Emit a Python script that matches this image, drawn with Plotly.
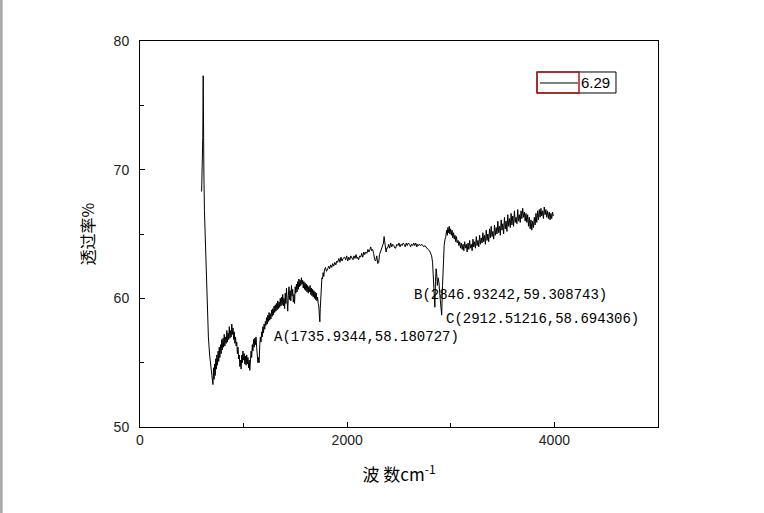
import plotly.graph_objects as go

# --------------------------------------------------
# DATA, (wavenumber, transmittance %)
# --------------------------------------------------

low_band = [
    (595, 68.3), (598, 69.6), (602, 68.9), (606, 72.5), (610, 77.3), (612, 71.0),
    (614, 73.2), (617, 69.5), (622, 66.8), (630, 64.5), (640, 61.3), (650, 58.8),
    (660, 57.0), (672, 55.6), (684, 54.4), (694, 54.0), (704, 53.3), (710, 54.6),
    (715, 53.7), (720, 54.9), (726, 54.0), (731, 55.3), (737, 54.5), (742, 55.6),
    (748, 54.8), (754, 55.9), (760, 55.1), (765, 56.2), (771, 55.4), (777, 56.4),
    (783, 55.7), (789, 56.8), (795, 56.0), (801, 56.9), (807, 56.2), (813, 57.2),
    (819, 56.3), (826, 57.0), (832, 56.5), (838, 57.5), (844, 56.6), (850, 57.3),
    (856, 56.8), (862, 57.8), (868, 56.9), (874, 57.5), (880, 57.0), (886, 58.0),
    (892, 57.2), (898, 57.7), (904, 56.8), (910, 57.4), (916, 56.5), (922, 57.0),
    (928, 56.3), (934, 56.6), (940, 55.7), (946, 56.2), (952, 55.3), (958, 55.6),
    (964, 54.7), (970, 55.2), (976, 54.5), (982, 55.6), (988, 55.0), (994, 55.9),
    (1000, 55.2), (1006, 55.7), (1012, 54.9), (1018, 55.5), (1024, 54.8), (1030, 55.6),
    (1036, 54.9), (1042, 55.4), (1048, 54.6), (1054, 55.2), (1060, 54.4), (1066, 55.5),
    (1072, 55.9), (1078, 55.4), (1084, 56.4), (1090, 55.9), (1096, 56.8), (1102, 56.2),
    (1108, 56.9), (1114, 56.4), (1120, 57.0), (1126, 56.2), (1132, 55.8), (1138, 55.0),
    (1144, 55.4), (1150, 55.0), (1156, 56.4), (1162, 57.0), (1168, 56.6), (1174, 57.4),
    (1180, 57.0), (1186, 57.8), (1192, 57.3), (1198, 58.0), (1204, 57.6), (1210, 58.2),
]

mid_band = [
    (1216, 57.9), (1222, 58.5), (1228, 58.0), (1234, 58.7), (1240, 58.2), (1246, 58.9),
    (1252, 58.3), (1258, 58.8), (1264, 58.4), (1270, 59.1), (1276, 58.6), (1282, 59.2),
    (1288, 58.7), (1294, 59.4), (1300, 58.9), (1306, 59.5), (1312, 59.0), (1318, 59.6),
    (1324, 59.1), (1330, 59.8), (1336, 59.2), (1342, 59.7), (1348, 59.3), (1354, 60.0),
    (1360, 59.4), (1366, 60.1), (1372, 59.5), (1378, 60.3), (1384, 59.4), (1390, 60.0),
    (1396, 59.2), (1402, 60.4), (1408, 59.6), (1414, 60.8), (1420, 59.8), (1426, 59.0),
    (1432, 60.2), (1438, 60.9), (1444, 59.9), (1450, 60.6), (1456, 59.8), (1462, 61.0),
    (1468, 60.2), (1474, 60.7), (1480, 59.7), (1486, 60.3), (1492, 59.6), (1498, 60.9),
    (1504, 60.4), (1510, 61.1), (1516, 60.5), (1522, 61.3), (1528, 60.7), (1534, 61.5),
    (1540, 60.9), (1546, 61.4), (1552, 61.0), (1558, 61.6), (1564, 61.1), (1570, 61.4),
    (1576, 60.8), (1582, 61.3), (1588, 60.7), (1594, 61.2), (1600, 60.6), (1606, 61.1),
    (1612, 60.5), (1618, 61.0), (1624, 60.4), (1630, 60.9), (1636, 60.5), (1642, 61.0),
    (1648, 60.3), (1654, 60.8), (1660, 60.2), (1666, 60.7), (1672, 60.1), (1678, 60.6),
    (1684, 60.0), (1690, 60.5), (1696, 59.9), (1702, 60.4), (1708, 59.8), (1714, 60.1),
    (1720, 59.6), (1726, 59.4), (1731, 58.7), (1736, 58.18), (1740, 59.2), (1745, 60.3),
    (1750, 61.2), (1756, 61.6), (1762, 61.5), (1768, 62.0), (1774, 61.7), (1780, 62.2),
]

plateau_band = [
    (1790, 62.4), (1800, 62.1), (1812, 62.3), (1822, 62.5), (1830, 62.3), (1841, 62.6),
    (1850, 62.4), (1860, 62.7), (1870, 62.5), (1880, 62.8), (1890, 62.6), (1900, 62.9),
    (1908, 62.8), (1920, 63.1), (1930, 62.8), (1940, 63.2), (1950, 62.9), (1960, 63.1),
    (1976, 63.2), (1985, 63.0), (1995, 63.3), (2005, 62.9), (2015, 63.2), (2025, 63.0),
    (2035, 63.3), (2045, 63.1), (2055, 63.0), (2065, 63.3), (2075, 63.1), (2085, 63.4),
    (2095, 63.1), (2101, 63.2), (2110, 63.0), (2120, 63.3), (2130, 63.2), (2140, 63.5),
    (2150, 63.2), (2160, 63.6), (2169, 63.4), (2180, 63.6), (2190, 63.5), (2200, 63.8),
    (2210, 63.6), (2220, 63.8), (2227, 64.0), (2235, 63.7), (2245, 63.8), (2255, 63.5),
    (2265, 63.0), (2275, 62.9), (2285, 63.3), (2295, 62.7), (2304, 62.8), (2312, 63.4),
    (2320, 63.6), (2330, 63.8), (2340, 64.0), (2350, 64.3), (2356, 64.8), (2361, 64.5),
    (2368, 64.0), (2375, 63.6), (2382, 63.9), (2390, 63.9), (2400, 64.2), (2410, 63.9),
    (2420, 64.3), (2430, 64.0), (2440, 64.2), (2450, 64.1), (2460, 63.9), (2467, 63.9),
    (2480, 64.2), (2490, 64.1), (2500, 64.3), (2510, 64.0), (2520, 64.2), (2530, 64.1),
    (2540, 64.3), (2550, 64.2), (2560, 64.0), (2570, 64.3), (2580, 64.1), (2590, 64.3),
    (2602, 64.2), (2612, 64.0), (2622, 64.2), (2632, 64.1), (2642, 64.3), (2652, 64.1),
    (2662, 64.3), (2672, 64.0), (2682, 64.2), (2690, 64.1), (2699, 64.2), (2710, 64.1),
    (2720, 64.2), (2730, 64.1), (2740, 64.0), (2750, 64.1), (2766, 63.9), (2780, 63.8),
    (2795, 63.7), (2805, 63.5),
]

ch_band = [
    (2815, 63.3), (2824, 62.8), (2832, 61.6), (2840, 60.4), (2846, 59.31), (2852, 61.3),
    (2858, 62.3), (2864, 61.9), (2870, 61.0), (2878, 61.6), (2886, 61.2), (2895, 60.2),
    (2905, 59.4), (2912, 58.694), (2920, 61.0), (2928, 63.2), (2936, 64.1), (2944, 64.6),
]

high_band = [
    (2950, 64.7), (2960, 65.3), (2966, 64.9), (2972, 65.5), (2978, 65.1), (2985, 65.6),
    (2991, 65.0), (2998, 65.4), (3005, 64.9), (3012, 65.3), (3020, 64.7), (3027, 65.1),
    (3034, 64.6), (3041, 64.9), (3048, 64.4), (3055, 64.8), (3062, 64.3), (3070, 64.5),
    (3078, 64.1), (3086, 64.4), (3094, 63.9), (3102, 64.3), (3110, 63.8), (3118, 64.2),
    (3126, 63.7), (3134, 64.4), (3142, 63.9), (3150, 64.2), (3158, 63.6), (3166, 64.3),
    (3174, 63.8), (3182, 64.5), (3190, 63.9), (3198, 64.2), (3206, 63.7), (3214, 64.6),
    (3222, 64.0), (3230, 64.4), (3238, 63.9), (3246, 64.8), (3254, 64.1), (3262, 64.5),
    (3270, 64.0), (3278, 64.9), (3286, 64.2), (3294, 64.7), (3302, 64.3), (3310, 65.1),
    (3318, 64.4), (3326, 64.9), (3334, 64.2), (3342, 65.3), (3350, 64.5), (3358, 65.0),
    (3366, 64.4), (3374, 65.4), (3382, 64.7), (3390, 65.6), (3398, 64.8), (3406, 65.2),
    (3414, 64.6), (3422, 65.7), (3430, 64.9), (3438, 65.5), (3446, 65.0), (3454, 66.0),
    (3462, 65.1), (3470, 65.6), (3478, 64.9), (3486, 66.1), (3494, 65.3), (3502, 65.8),
    (3510, 65.0), (3518, 66.3), (3526, 65.4), (3534, 66.0), (3542, 65.2), (3550, 66.5),
    (3558, 65.6), (3566, 66.2), (3574, 65.5), (3582, 66.6), (3590, 65.7), (3598, 66.4),
    (3606, 65.6), (3614, 66.8), (3622, 65.9), (3630, 66.3), (3638, 65.8), (3646, 66.9),
    (3654, 66.0), (3662, 66.5), (3670, 65.9), (3678, 66.8), (3686, 66.2), (3694, 67.0),
    (3702, 66.3), (3710, 66.7), (3718, 66.0), (3726, 66.6), (3734, 65.9), (3742, 66.5),
    (3750, 65.6), (3758, 66.3), (3766, 65.4), (3774, 66.1), (3782, 65.3), (3790, 66.0),
    (3798, 65.5), (3806, 66.3), (3814, 65.7), (3822, 66.6), (3830, 65.9), (3838, 66.8),
    (3846, 66.1), (3854, 66.9), (3862, 66.3), (3870, 67.0), (3878, 66.4), (3886, 66.8),
    (3894, 66.2), (3902, 67.1), (3910, 66.5), (3918, 66.9), (3926, 66.3), (3934, 66.8),
    (3942, 66.2), (3950, 66.7), (3958, 66.1), (3966, 66.6), (3974, 66.2), (3982, 66.7),
    (3990, 66.4),
]

series_name = "6.29"

peak_labels = ["A(1735.9344,58.180727)", "B(2846.93242,59.308743)", "C(2912.51216,58.694306)"]
label_x = [1272, 2622, 2930]
label_y = [57.0, 60.26, 58.4]

spectrum = low_band + mid_band + plateau_band + ch_band + high_band
wavenumber = [p[0] for p in spectrum]
transmittance = [p[1] for p in spectrum]

# --------------------------------------------------
# FIGURE
# --------------------------------------------------

fig = go.Figure()

fig.add_trace(
    go.Scatter(
        x=wavenumber,
        y=transmittance,
        mode="lines",
        name=series_name,
        line=dict(color="black", width=1),
        showlegend=False,
    )
)

for text, lx, ly in zip(peak_labels, label_x, label_y):
    fig.add_annotation(
        x=lx, y=ly, text=text, showarrow=False,
        xanchor="left", yanchor="middle",
        font=dict(family="Liberation Mono", size=14, color="black"),
    )

# legend box drawn like the Origin one (with its red selection frame)
fig.add_shape(type="rect", xref="paper", yref="paper",
              x0=0.7664, x1=0.9189, y0=0.8653, y1=0.9197,
              line=dict(color="black", width=1), fillcolor="white")
fig.add_shape(type="line", xref="paper", yref="paper",
              x0=0.772, x1=0.8456, y0=0.8912, y1=0.8912,
              line=dict(color="black", width=1))
fig.add_shape(type="rect", xref="paper", yref="paper",
              x0=0.7664, x1=0.8475, y0=0.8653, y1=0.9197,
              line=dict(color="#b01818", width=1.5))
fig.add_annotation(x=0.8475, y=0.8912, xref="paper", yref="paper",
                   text=series_name, showarrow=False,
                   xanchor="left", yanchor="middle",
                   font=dict(family="Liberation Sans", size=15, color="black"))

# grey edge at the very left of the window
fig.add_shape(type="line", xref="paper", yref="paper",
              x0=-0.268, x1=-0.268, y0=-0.223, y1=1.106,
              line=dict(color="#aaaaaa", width=3))

axis_common = dict(
    showline=True,
    linecolor="black",
    linewidth=1,
    mirror=True,
    showgrid=False,
    zeroline=False,
    ticks="inside",
    ticklen=5,
    tickcolor="black",
    tickfont=dict(family="Liberation Sans", size=14, color="#222"),
    minor=dict(ticks="inside", ticklen=4, tickcolor="black"),
)

fig.update_layout(
    width=764,
    height=513,
    paper_bgcolor="white",
    plot_bgcolor="white",
    margin=dict(l=140, r=106, t=41, b=86),
    xaxis=dict(
        range=[0, 5000],
        dtick=2000,
        minor_dtick=1000,
        title=dict(
            text="波 数cm<sup>-1</sup>",
            font=dict(family="Noto Sans CJK SC", size=17, color="black"),
            standoff=22,
        ),
        **axis_common,
    ),
    yaxis=dict(
        range=[50, 80],
        dtick=10,
        minor_dtick=5,
        ticklabelstandoff=7,
        title=dict(
            text="透过率%",
            font=dict(family="Noto Sans CJK SC", size=16, color="black"),
            standoff=15,
        ),
        **axis_common,
    ),
    showlegend=False,
)

fig.write_html(
    "out.html",
    config={"displayModeBar": False},
    post_script="document.body.style.margin='0px';",
)
